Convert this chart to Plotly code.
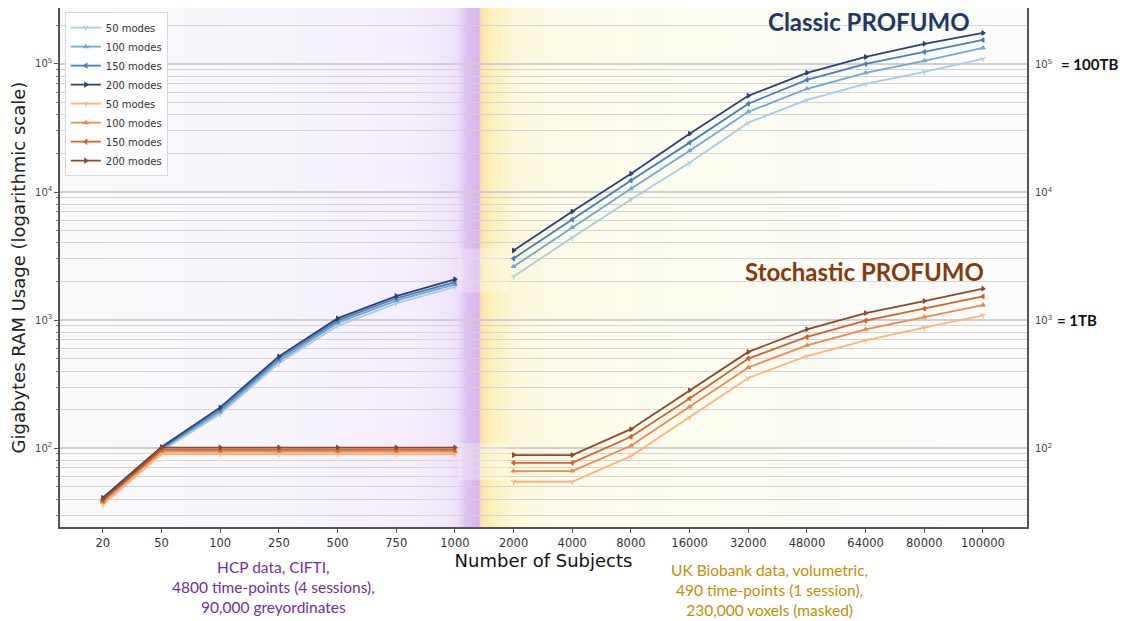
import plotly.graph_objects as go
import numpy as np

# ---------------- data ----------------
subjects = ["20", "50", "100", "250", "500", "750", "1000", "2000", "4000",
            "8000", "16000", "32000", "48000", "64000", "80000", "100000"]
hcp_subjects = subjects[:7]
ukb_subjects = subjects[7:]
mode_labels = ["50 modes", "100 modes", "150 modes", "200 modes"]

# Classic PROFUMO, HCP (20..1000 subjects)
classic_hcp_50 = [37, 95, 185, 460, 900, 1350, 1820]
classic_hcp_100 = [39, 98, 192, 480, 950, 1420, 1900]
classic_hcp_150 = [40, 100, 200, 500, 990, 1480, 1980]
classic_hcp_200 = [41, 102, 208, 520, 1030, 1540, 2080]

# Stochastic PROFUMO, HCP
stoch_hcp_50 = [36, 90, 90, 90, 90, 90, 90]
stoch_hcp_100 = [38, 94, 94, 94, 94, 94, 94]
stoch_hcp_150 = [39, 97, 97, 97, 97, 97, 97]
stoch_hcp_200 = [40, 101, 101, 101, 101, 101, 101]

# Classic PROFUMO, UK Biobank (2000..100000 subjects)
classic_ukb_50 = [2190, 4410, 8730, 16900, 34800, 52500, 70000, 86700, 109600]
classic_ukb_100 = [2620, 5280, 10600, 21000, 42300, 64000, 85300, 105800, 133400]
classic_ukb_150 = [3030, 6090, 12300, 24300, 48900, 75200, 100000, 124200, 154000]
classic_ukb_200 = [3490, 7030, 13900, 28500, 56400, 85300, 113500, 143500, 174600]

# Stochastic PROFUMO, UK Biobank
stoch_ukb_50 = [54.6, 54.6, 86.6, 173.5, 353, 524, 695, 873, 1089]
stoch_ukb_100 = [66.2, 66.2, 104.2, 210, 426, 635, 847, 1055, 1309]
stoch_ukb_150 = [76.8, 76.8, 122.5, 244, 500, 738, 989, 1227, 1531]
stoch_ukb_200 = [88.2, 88.2, 140.6, 283, 564, 847, 1135, 1406, 1758]

y_tick_vals = [1e2, 1e3, 1e4, 1e5]
y_tick_text = ["10<sup>2</sup>", "10<sup>3</sup>", "10<sup>4</sup>", "10<sup>5</sup>"]

# ---------------- styles ----------------
blue_cols = ["#a9cce6", "#72a7d5", "#4a7dbb", "#2a4278"]
orange_cols = ["#fdb47c", "#f2884a", "#d5622b", "#8e4a2a"]
symbols = ["y-down-open", "triangle-up", "triangle-left", "triangle-right"]

classic_hcp = [classic_hcp_50, classic_hcp_100, classic_hcp_150, classic_hcp_200]
stoch_hcp = [stoch_hcp_50, stoch_hcp_100, stoch_hcp_150, stoch_hcp_200]
classic_ukb = [classic_ukb_50, classic_ukb_100, classic_ukb_150, classic_ukb_200]
stoch_ukb = [stoch_ukb_50, stoch_ukb_100, stoch_ukb_150, stoch_ukb_200]

fig = go.Figure()

def add_series(xs, ys, color, sym, name, group, show):
    fig.add_trace(go.Scatter(
        x=xs, y=ys, mode="lines+markers", name=name, legendgroup=group,
        showlegend=show,
        line=dict(color=color, width=1.8),
        marker=dict(symbol=sym, size=4, color=color,
                    line=dict(color=color, width=1.1)),
    ))

for i in range(4):
    add_series(hcp_subjects, classic_hcp[i], blue_cols[i], symbols[i],
               mode_labels[i], "c%d" % i, True)
for i in range(4):
    add_series(hcp_subjects, stoch_hcp[i], orange_cols[i], symbols[i],
               mode_labels[i], "s%d" % i, True)
for i in range(4):
    add_series(ukb_subjects, classic_ukb[i], blue_cols[i], symbols[i],
               mode_labels[i], "c%d" % i, False)
for i in range(4):
    add_series(ukb_subjects, stoch_ukb[i], orange_cols[i], symbols[i],
               mode_labels[i], "s%d" % i, False)

# ---------------- background gradient ----------------
x0_cat = -0.73
x1_cat = 15.75
def px2cat(p):
    return (p - 103.0) / 58.7

stops = [
    (60, (250, 250, 251)),
    (250, (248, 246, 252)),
    (400, (245, 239, 253)),
    (445, (242, 232, 252)),
    (458, (238, 224, 250)),
    (466, (222, 196, 242)),
    (479, (216, 180, 240)),
    (482, (253, 233, 168)),
    (492, (253, 239, 186)),
    (515, (253, 248, 218)),
    (560, (253, 252, 234)),
    (700, (252, 252, 240)),
    (850, (251, 251, 247)),
    (1027, (252, 252, 252)),
]
shapes = []
sp = np.array([s[0] for s in stops], dtype=float)
cols = np.array([s[1] for s in stops], dtype=float)
edges = np.arange(60, 1028, 3)
for a in edges:
    b = min(a + 3, 1027)
    mid = (a + b) / 2
    c = [int(round(np.interp(mid, sp, cols[:, k]))) for k in range(3)]
    shapes.append(dict(type="rect", xref="x", yref="paper",
                       x0=px2cat(a), x1=px2cat(b + 0.6), y0=0, y1=1,
                       fillcolor="rgb(%d,%d,%d)" % tuple(c),
                       line=dict(width=0), layer="below"))

# pale patches in the gap between the two data sets
for (ya, yb) in [(1645, 3620), (56, 109)]:
    shapes.append(dict(type="rect", xref="x", yref="y",
                       x0=px2cat(458), x1=px2cat(509), y0=ya, y1=yb,
                       fillcolor="rgba(255,255,255,0.28)",
                       line=dict(width=0), layer="above"))

# ---------------- layout ----------------
minor_vals = []
for d in [10, 100, 1000, 10000, 100000]:
    for m in range(2, 10):
        minor_vals.append(m * d)

# page body adds an 8px offset; figure sized to fit the window
fig.update_layout(
    width=1119, height=613,
    margin=dict(l=52, r=100, t=0, b=94, autoexpand=False),
    paper_bgcolor="white",
    plot_bgcolor="white",
    shapes=shapes,
    font=dict(family="DejaVu Sans", color="#333333"),
    legend=dict(x=0.005, y=0.992, xanchor="left", yanchor="top",
                bgcolor="rgba(255,255,255,0.85)", bordercolor="#d8d8d8",
                borderwidth=1, font=dict(size=10, color="#333"),
                tracegroupgap=0, itemwidth=30),
    xaxis=dict(
        type="category", categoryorder="array", categoryarray=subjects,
        range=[x0_cat, x1_cat], automargin=False,
        showgrid=False, zeroline=False,
        showline=True, linecolor="#555555", linewidth=1.5, mirror=True,
        ticks="outside", ticklen=4, tickcolor="#555555",
        tickfont=dict(size=11.5, color="#333333"),
        title=dict(text="Number of Subjects", font=dict(size=18, color="#111111"),
                   standoff=2),
    ),
    yaxis=dict(
        type="log", range=[1.384, 5.437], automargin=False,
        tickvals=y_tick_vals, ticktext=y_tick_text,
        tickfont=dict(size=10, color="#444444"),
        showgrid=True, gridcolor="#cfcfcf", gridwidth=1.5,
        zeroline=False,
        showline=True, linecolor="#555555", linewidth=1.5, mirror=True,
        ticks="outside", ticklen=4, tickcolor="#555555",
        minor=dict(tickvals=minor_vals, showgrid=True, gridcolor="#d4d4d4",
                   gridwidth=1.3, ticks="outside", ticklen=2, tickcolor="#777"),
        title=dict(text="Gigabytes RAM Usage (logarithmic scale)",
                   font=dict(size=18, color="#222222"), standoff=6),
    ),
)

# right side tick labels
annots = []
for v, t in zip(y_tick_vals, y_tick_text):
    annots.append(dict(xref="paper", yref="y", x=1.006, y=np.log10(v),
                       xanchor="left", yanchor="middle", showarrow=False,
                       text=t, font=dict(size=10, color="#444444", family="DejaVu Sans")))
annots.append(dict(xref="paper", yref="y", x=1.033, y=5.0, xanchor="left",
                   yanchor="middle", showarrow=False, text="<b>= 100TB</b>",
                   font=dict(size=15, color="#111111", family="Lato")))
annots.append(dict(xref="paper", yref="y", x=1.029, y=3.0, xanchor="left",
                   yanchor="middle", showarrow=False, text="<b>= 1TB</b>",
                   font=dict(size=15, color="#111111", family="Lato")))
annots.append(dict(xref="x", yref="y", x=13.05, y=5.33, xanchor="center",
                   yanchor="middle", showarrow=False, text="<b>Classic PROFUMO</b>",
                   font=dict(size=24, color="#1f3864", family="Lato")))
annots.append(dict(xref="x", yref="y", x=12.98, y=3.38, xanchor="center",
                   yanchor="middle", showarrow=False, text="<b>Stochastic PROFUMO</b>",
                   font=dict(size=24, color="#843c0c", family="Lato")))
annots.append(dict(xref="paper", yref="paper", x=(273 - 60) / 967.0, y=-0.056,
                   xanchor="center", yanchor="top", showarrow=False,
                   text="HCP data, CIFTI,<br>4800 time-points (4 sessions),<br>90,000 greyordinates",
                   align="center",
                   font=dict(size=15.5, color="#7030a0", family="Lato")))
annots.append(dict(xref="paper", yref="paper", x=(769 - 60) / 967.0, y=-0.062,
                   xanchor="center", yanchor="top", showarrow=False,
                   text="UK Biobank data, volumetric,<br>490 time-points (1 session),<br>230,000 voxels (masked)",
                   align="center",
                   font=dict(size=15.5, color="#bf9000", family="Lato")))
fig.update_layout(annotations=annots)

fig.write_html("out.html")
